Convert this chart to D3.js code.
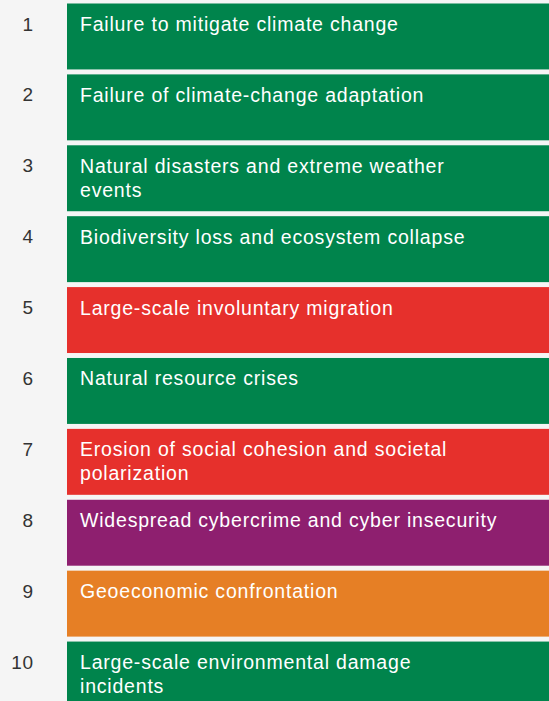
<!DOCTYPE html>
<html>
<head>
<meta charset="utf-8">
<script src="https://cdn.jsdelivr.net/npm/d3@7"></script>
<style>
    html, body { margin: 0; padding: 0; background: #f5f5f5; }
    svg { display: block; }
</style>
</head>
<body>
<div id="content"></div>
<script>
// ======= data =======
var ranks = [1, 2, 3, 4, 5, 6, 7, 8, 9, 10];
var riskLines = [
    ["Failure to mitigate climate change"],
    ["Failure of climate-change adaptation"],
    ["Natural disasters and extreme weather", "events"],
    ["Biodiversity loss and ecosystem collapse"],
    ["Large-scale involuntary migration"],
    ["Natural resource crises"],
    ["Erosion of social cohesion and societal", "polarization"],
    ["Widespread cybercrime and cyber insecurity"],
    ["Geoeconomic confrontation"],
    ["Large-scale environmental damage", "incidents"]
];
var riskTypes = ["env", "env", "env", "env", "soc", "env", "soc", "tech", "geo", "env"];

// ======= formatting =======
var typeColors = { env: "#00844c", soc: "#e6302c", tech: "#8e1f6f", geo: "#e67f25" };
var width = 549;
var height = 701;
var barLeft = 67;
var fontFamily = "'Liberation Sans', Arial, sans-serif";

// ======= scales =======
var yScale = d3.scaleBand()
    .domain(ranks)
    .range([3.5, 3.5 + 70.4 * ranks.length])
    .paddingInner(0.07)
    .paddingOuter(0);

// ======= elements =======
var svgEl = d3.select("#content")
    .append("svg")
        .attr("width", width)
        .attr("height", height);

svgEl.append("rect")
    .attr("width", width)
    .attr("height", height)
    .style("fill", "#f5f5f5");

var rows = svgEl.selectAll("g.row")
    .data(ranks)
    .enter()
    .append("g")
        .attr("class", "row")
        .attr("transform", function(d) {
            return "translate(0," + yScale(d) + ")";
        });

// == bars
rows.append("rect")
    .attr("x", barLeft)
    .attr("y", 0)
    .attr("width", width - barLeft)
    .attr("height", yScale.bandwidth())
    .style("fill", function(d, i) {
        return typeColors[riskTypes[i]];
    });

// == rank numbers
rows.append("text")
    .attr("x", 33.5)
    .attr("y", 27)
    .attr("text-anchor", "end")
    .style("font-family", fontFamily)
    .style("font-size", "19px")
    .style("letter-spacing", "0.5px")
    .style("fill", "#333")
    .text(function(d) { return d; });

// == labels
rows.append("text")
    .attr("x", 80)
    .attr("y", 27.5)
    .style("font-family", fontFamily)
    .style("font-size", "19.5px")
    .style("letter-spacing", "0.8px")
    .style("fill", "#fff")
    .selectAll("tspan")
    .data(function(d, i) { return riskLines[i]; })
    .enter()
    .append("tspan")
        .attr("x", 80)
        .attr("dy", function(d, i) { return i == 0 ? 0 : 24; })
        .text(function(d) { return d; });
</script>
</body>
</html>
